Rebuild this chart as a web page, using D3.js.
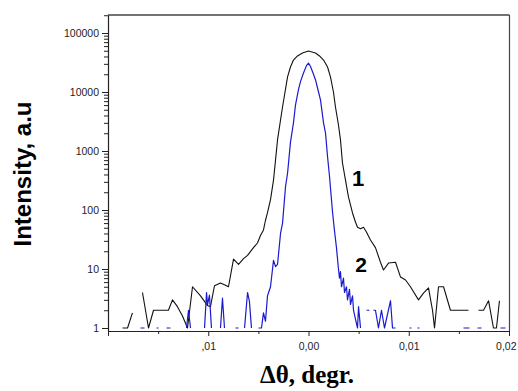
<!DOCTYPE html>
<html><head><meta charset="utf-8">
<script src="https://cdn.jsdelivr.net/npm/d3@7"></script>
<style>
body{margin:0;background:#fff;}
svg{display:block;}
</style></head>
<body><svg id="c" width="518" height="391"></svg>
<script>
// Curve 1 (black): angle offset (degrees) and intensity (null = no counts)
const blackX = [-0.01855,-0.01805,-0.01756,-0.01706,-0.01656,-0.01596,-0.01546,-0.01496,-0.01446,-0.01397,-0.01357,-0.01307,-0.01257,-0.01207,-0.01157,-0.01077,-0.01007,-0.00978,-0.00938,-0.00878,-0.00828,-0.00798,-0.00748,-0.00698,-0.00648,-0.00608,-0.00549,-0.00509,-0.00479,-0.00449,-0.00429,-0.00409,-0.00379,-0.00349,-0.00329,-0.00309,-0.00279,-0.00259,-0.00239,-0.00209,-0.00180,-0.00150,-0.00110,-0.00060,0,0.00070,0.00110,0.00150,0.00190,0.00219,0.00249,0.00269,0.00299,0.00319,0.00339,0.00369,0.00399,0.00439,0.00469,0.00489,0.00519,0.00549,0.00579,0.00618,0.00668,0.00718,0.00748,0.00798,0.00868,0.00918,0.00968,0.01017,0.01097,0.01147,0.01197,0.01237,0.01257,0.01297,0.01347,0.01416,0.01466,0.01516,0.01596,0.01646,0.01696,0.01746,0.01796,0.01845,0.01875,0.01905];
const blackY = [1,1,1.8,null,4,1,2,2,2,2,3,2.3,1.6,1,5,3.5,2.4,2.3,5.2,5.8,5.3,5,14.7,12,15,17,23,27.6,37,46,67,90,150,320,700,1540,3350,5570,8900,18000,26500,34800,40800,45800,49500,45800,40800,34800,26500,18000,10000,5570,2760,1540,626,320,165,89,62,51,48,51,42,31,23,13,9.6,12.6,13,7.3,6.5,5,3,3.9,4.8,2,1,5,5,2,2,2,2,null,2,2,2.9,1,1,2.9];
// Curve 2 (blue)
const blueX = [-0.01676,-0.01636,-0.01576,-0.01516,-0.01496,-0.01456,-0.01416,-0.01377,-0.01297,-0.01217,-0.01197,-0.01177,-0.01107,-0.01037,-0.01017,-0.01007,-0.00988,-0.00968,-0.00928,-0.00878,-0.00858,-0.00838,-0.00778,-0.00728,-0.00698,-0.00668,-0.00638,-0.00608,-0.00589,-0.00569,-0.00529,-0.00499,-0.00469,-0.00449,-0.00429,-0.00409,-0.00379,-0.00349,-0.00329,-0.00309,-0.00279,-0.00259,-0.00229,-0.00209,-0.00180,-0.00150,-0.00130,-0.00100,-0.00080,-0.00050,-0.00020,0,0.00020,0.00050,0.00070,0.00100,0.00120,0.00150,0.00170,0.00190,0.00209,0.00239,0.00259,0.00279,0.00299,0.00309,0.00319,0.00329,0.00349,0.00359,0.00379,0.00389,0.00409,0.00419,0.00439,0.00449,0.00469,0.00489,0.00499,0.00519,0.00549,0.00579,0.00608,0.00628,0.00648,0.00668,0.00698,0.00728,0.00758,0.00818,0.00838,0.00868,0.00938,0.01007,0.01027,0.01057,0.01087,0.01107,0.01317,0.01546,0.01606,0.01646,0.01686,0.01726,0.01816,0.01915,0.01965];
const blueY = [1,1,null,1,1,null,1,1,null,1,2,1,null,1,4,2.5,3.6,1,null,1,3.2,1,null,1,1,null,1,4,2.8,1,null,1,1,1.8,1.3,3.5,5,14,11,12,40,60,250,420,1400,3000,6000,11000,15000,21000,28000,31000,27000,20000,16000,10000,7300,3000,2000,800,380,95,45,23,10,7,9,5,7,4,5,3,4.5,2.5,3.5,2,1.4,1,2.3,1,null,2,2,null,2,2,1,2,1,2.9,1,1,null,1,1,null,1,1,null,1,1,null,1,1,null,1,1];

const yTickValues = [1,10,100,1000,10000,100000];
const yTickLabels = ["1","10","100","1000","10000","100000"];
const xTickValues = [-0.02,-0.01,0,0.01,0.02];
const xTickLabels = ["",",01","0,00","0,01","0,02"];
const xMinorTicks = [-0.015,-0.005,0.005,0.015];

const svg = d3.select("#c");
const x = d3.scaleLinear().domain([-0.02,0.02]).range([108,509]);
const yBase = d3.scaleLog().domain([1,1e5]).range([328,33]);
const y = d3.scaleLog().domain([yBase.invert(331), yBase.invert(15)]).range([331,15]);

// frame
svg.append("line").attr("x1",108).attr("x2",509.5).attr("y1",15).attr("y2",15).attr("stroke","#444").attr("stroke-width",1.5);
svg.append("line").attr("x1",509.5).attr("x2",509.5).attr("y1",15).attr("y2",331).attr("stroke","#444").attr("stroke-width",1.2);

// y minor ticks
const yMinor = [];
for (let d=1; d<1e5; d*=10) for (let k=2;k<10;k++) yMinor.push(d*k);
yMinor.push(2e5);
svg.append("g").attr("transform","translate(108,0)")
  .call(d3.axisLeft(y).tickValues(yMinor.filter(v=>v<=y.domain()[1])).tickSize(4).tickFormat(""))
  .call(g=>g.select(".domain").remove())
  .call(g=>g.selectAll("line").attr("stroke","#222"));
svg.append("g").attr("transform","translate(108,0)")
  .call(d3.axisLeft(y).tickValues(yTickValues).tickSize(6).tickSizeOuter(0).tickPadding(3)
    .tickFormat((d,i)=>yTickLabels[i]))
  .call(g=>g.select(".domain").attr("stroke","#222").attr("stroke-width",1.2))
  .call(g=>g.selectAll("line").attr("stroke","#222"))
  .call(g=>g.selectAll("text").attr("fill","#222").style("font-family","Arial, 'Liberation Sans', sans-serif").style("font-size","10.5px"));

// x axis
svg.append("g").attr("transform","translate(0,331)")
  .call(d3.axisBottom(x).tickValues(xMinorTicks).tickSize(3).tickFormat(""))
  .call(g=>g.select(".domain").remove())
  .call(g=>g.selectAll("line").attr("stroke","#222"));
svg.append("g").attr("transform","translate(0,331)")
  .call(d3.axisBottom(x).tickValues(xTickValues).tickSize(5).tickSizeOuter(0).tickPadding(7)
    .tickFormat((d,i)=>xTickLabels[i]))
  .call(g=>g.select(".domain").attr("stroke","#222").attr("stroke-width",1.2))
  .call(g=>g.selectAll("line").attr("stroke","#222"))
  .call(g=>g.selectAll("text").attr("fill","#222").style("font-family","Arial, 'Liberation Sans', sans-serif").style("font-size","10.5px"))
  .call(g=>g.selectAll(".tick").filter(d=>d===0.02).select("text").attr("text-anchor","end").attr("dx","7"));

const line = d3.line().defined(d=>d[1]!=null).x(d=>x(d[0])).y(d=>y(d[1]));
svg.append("path").datum(blackX.map((v,i)=>[v,blackY[i]]))
  .attr("d",line).attr("fill","none").attr("stroke","#111").attr("stroke-width",1.1).attr("stroke-linejoin","round");
svg.append("path").datum(blueX.map((v,i)=>[v,blueY[i]]))
  .attr("d",line).attr("fill","none").attr("stroke","#1a1ad0").attr("stroke-width",1.2).attr("stroke-linejoin","round");

// curve numbers
svg.append("text").attr("x",358).attr("y",186).attr("text-anchor","middle")
  .style("font-family","Arial, 'Liberation Sans', sans-serif").style("font-weight","bold").style("font-size","22px").text("1");
svg.append("text").attr("x",361).attr("y",272).attr("text-anchor","middle")
  .style("font-family","Arial, 'Liberation Sans', sans-serif").style("font-weight","bold").style("font-size","21px").text("2");

// axis titles
svg.append("text").attr("x",307).attr("y",383).attr("text-anchor","middle")
  .style("font-family","'Liberation Serif','Times New Roman',serif").style("font-weight","bold").style("font-size","25px").text("Δθ, degr.");
svg.append("text").attr("transform","translate(31,174) rotate(-90)").attr("text-anchor","middle")
  .style("font-family","Arial, 'Liberation Sans', sans-serif").style("font-weight","bold").style("font-size","24px").text("Intensity, a.u");
</script></body></html>
